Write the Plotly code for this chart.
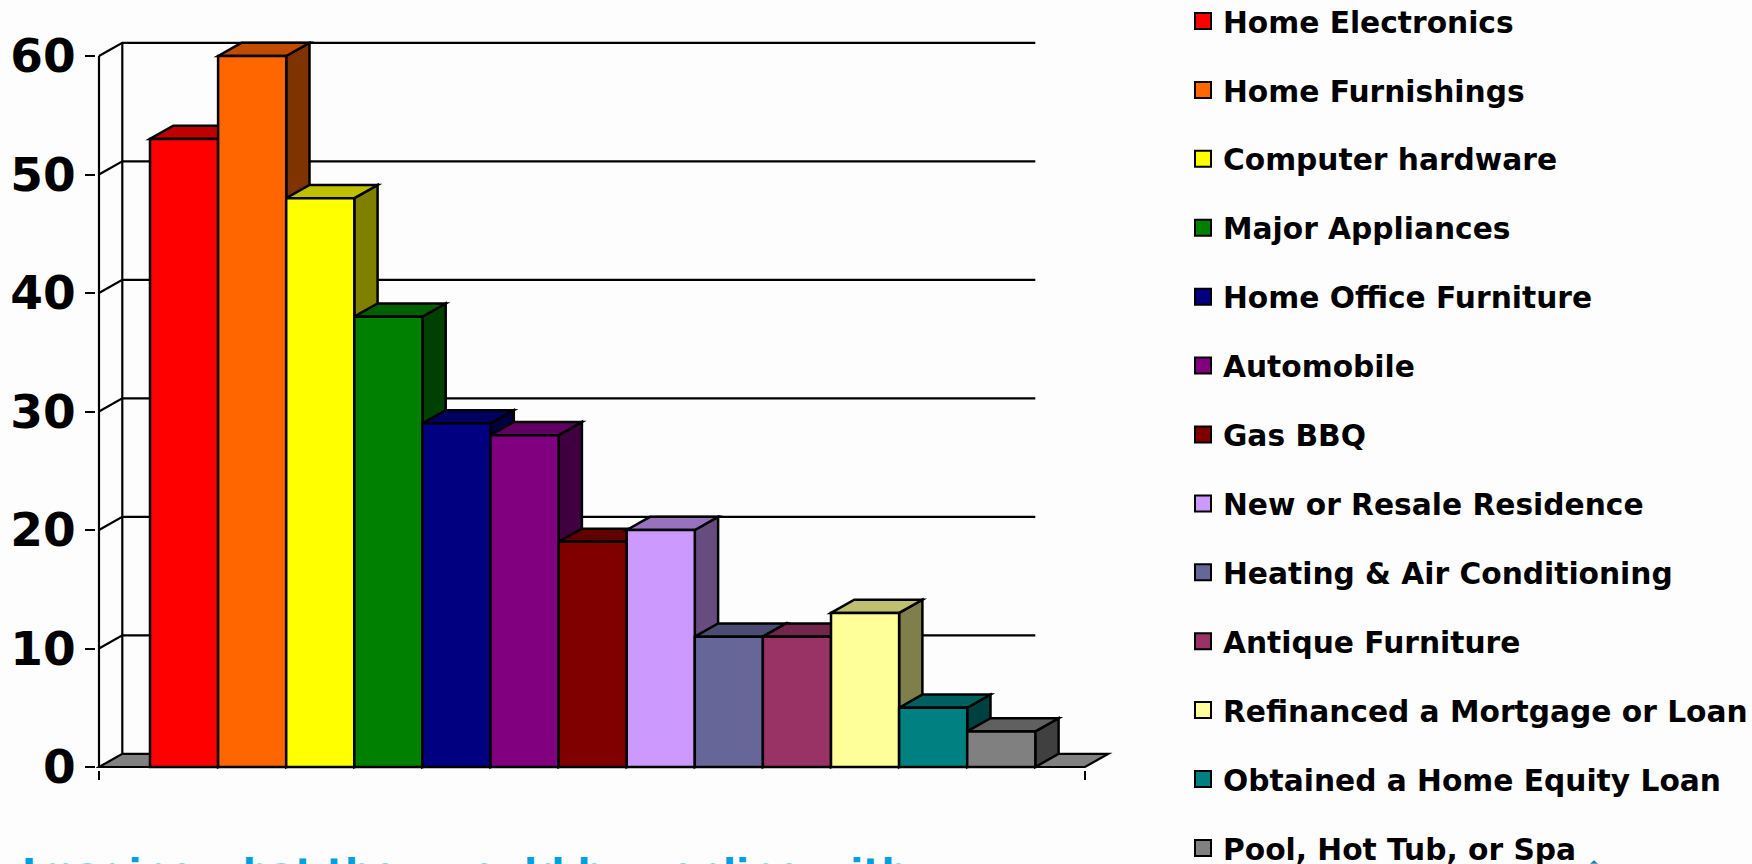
import plotly.graph_objects as go

categories = ["Home Electronics", "Home Furnishings", "Computer hardware", "Major Appliances",
              "Home Office Furniture", "Automobile", "Gas BBQ", "New or Resale Residence",
              "Heating & Air Conditioning", "Antique Furniture", "Refinanced a Mortgage or Loan",
              "Obtained a Home Equity Loan", "Pool, Hot Tub, or Spa"]
values = [53, 60, 48, 38, 29, 28, 19, 20, 11, 11, 13, 5, 3]
colors = ["#FF0000", "#FF6600", "#FFFF00", "#008000", "#000080", "#800080", "#800000",
          "#CC99FF", "#666699", "#993366", "#FFFF99", "#008080", "#808080"]
y_ticks = [0, 10, 20, 30, 40, 50, 60]
caption = "Imagine what they would buy online with"

# layout in pixels
AX_L, AX_R, TOP, BASE = 99, 1085, 43.3, 767.3
BAR_PX, UNIT_PX = 68.1, 11.85
PAD_L, PAD_R, PAD_T, PAD_B = 3, 30, 5, 3
L, R, T, B = AX_L - PAD_L, AX_R + PAD_R, TOP - PAD_T, BASE + PAD_B
DX, DY = 23.3 / BAR_PX, 13.2 / UNIT_PX
X0 = -0.5 - (150 - AX_L) / BAR_PX
X1 = X0 + (AX_R - AX_L) / BAR_PX
GRID_END = len(values) - 0.5


def shade(c, f):
    r, g, b = (int(c[i:i + 2], 16) for i in (1, 3, 5))
    return f"rgb({int(r * f)},{int(g * f)},{int(b * f)})"


def poly(pts, fill=None, width=2.2):
    path = "M" + " L".join(f"{x},{y}" for x, y in pts) + (" Z" if fill else "")
    return dict(type="path", path=path, xref="x", yref="y", layer="below",
                fillcolor=fill or "rgba(0,0,0,0)", line=dict(color="black", width=width))


shapes = [poly([(X0, 0), (X0 + DX, DY), (X1 + DX, DY), (X1, 0)], "#808080")]
shapes.append(poly([(X0, 0), (X1, 0)]))
shapes.append(poly([(X0 + DX, DY), (X0 + DX, 60 + DY)]))
shapes.append(poly([(X0, 0), (X0, 60)]))
for t in y_ticks[1:]:
    shapes.append(poly([(X0, t), (X0 + DX, t + DY), (GRID_END, t + DY)]))
for i, (v, c) in enumerate(zip(values, colors)):
    l, r = i - 0.5, i + 0.5
    shapes.append(poly([(r, 0), (r + DX, DY), (r + DX, v + DY), (r, v)], shade(c, 0.5), 2.5))
    shapes.append(poly([(l, v), (l + DX, v + DY), (r + DX, v + DY), (r, v)], shade(c, 0.75), 2.5))
# tip of a glyph cut off by the bottom edge of the slide
shapes.append(dict(type="path", xref="paper", yref="paper", layer="above",
                   path=f"M{(1590 - L) / (R - L)},{-(864 - B) / (B - T)} "
                        f"L{(1594 - L) / (R - L)},{-(860.5 - B) / (B - T)} "
                        f"L{(1598 - L) / (R - L)},{-(864 - B) / (B - T)} Z",
                   fillcolor="#1F7F9F", line=dict(width=0)))

fig = go.Figure()
fig.add_trace(go.Bar(x=list(range(len(values))), y=values, width=1,
                     marker=dict(color=colors, line=dict(color="black", width=2.5)),
                     showlegend=False, hoverinfo="skip"))
for i, (name, c) in enumerate(zip(categories, colors)):
    fig.add_trace(go.Scatter(x=[None], y=[None], mode="markers", name=name, legendgroup=f"g{i}",
                             marker=dict(symbol="square", size=21, color=c,
                                         line=dict(color="black", width=2))))

BG = "#FDFDFD"
fig.update_layout(
    width=1752, height=864, margin=dict(l=L, r=1752 - R, t=T, b=864 - B, pad=0, autoexpand=False),
    paper_bgcolor=BG, plot_bgcolor="rgba(0,0,0,0)", shapes=shapes, barmode="overlay",
    font=dict(family="DejaVu Sans", color="black"),
    xaxis=dict(range=[X0 - PAD_L / BAR_PX, X1 + PAD_R / BAR_PX], tickmode="array", tickvals=[X0, X1],
               ticktext=["", ""], ticks="outside", ticklen=9, tickwidth=2, tickcolor="black",
               showline=False, showgrid=False, zeroline=False),
    yaxis=dict(range=[-PAD_B / UNIT_PX, (BASE - TOP + PAD_T) / UNIT_PX], tickmode="array",
               tickvals=y_ticks, ticks="outside", ticklen=10, tickwidth=2, tickcolor="black",
               showgrid=False, zeroline=False, showline=False,
               tickfont=dict(family="DejaVu Sans", size=47, weight="bold", color="black")),
    legend=dict(x=(1183 - L) / (R - L), xref="paper", y=(B + 4.5) / (B - T), yref="paper",
                yanchor="top", xanchor="left",
                maxheight=1000, bgcolor="rgba(0,0,0,0)", borderwidth=0, tracegroupgap=27.3, itemsizing="trace",
                font=dict(family="DejaVu Sans", size=29.7, weight="bold", color="black")),
    annotations=[dict(text=caption, xref="paper", yref="paper",
                      x=(20 - L) / (R - L), y=-(848 - B) / (B - T), xanchor="left", yanchor="top",
                      showarrow=False,
                      font=dict(family="DejaVu Sans", size=38, weight="bold", color="#00A0E0"))],
)
fig.write_html("out.html", post_script="document.body.style.margin='0';",
               config={"displayModeBar": False})
